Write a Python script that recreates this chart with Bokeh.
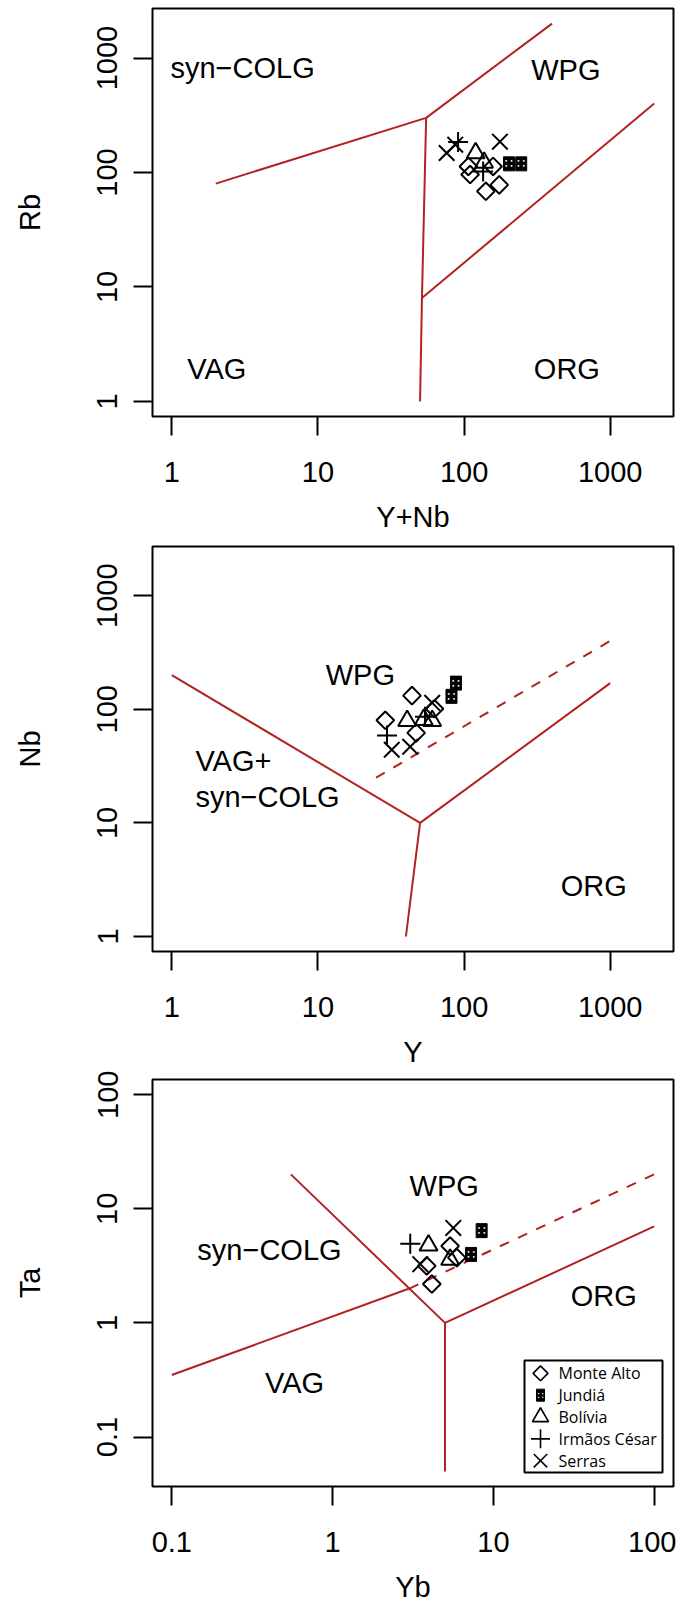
import math
from bokeh.plotting import figure
from bokeh.layouts import column
from bokeh.models import Range1d, FixedTicker, BasicTickFormatter
from bokeh.core.properties import value
from bokeh.embed import file_html
from bokeh.resources import INLINE

# ---------------- data ----------------
# Panel 1: Rb vs Y+Nb
P1_SYN_X = [2, 55, 400]; P1_SYN_Y = [80, 300, 2000]
P1_VAG_X = [55, 51.5, 50]; P1_VAG_Y = [300, 8, 1]
P1_ORG_X = [51.5, 2000]; P1_ORG_Y = [8, 400]
P1_LABELS = ["syn\u2212COLG", "WPG", "VAG", "ORG"]
P1_LAB_X = [3.05, 497, 2.03, 505]
P1_LAB_Y = [815, 783, 1.93, 1.93]

MA1_X = [107, 110, 158, 141, 174]; MA1_Y = [113, 96, 113, 68.5, 78]
JU1_X = [203, 246]; JU1_Y = [119, 119]
BO1_X = [120, 137]; BO1_Y = [148, 122]
IC1_X = [91, 135]; IC1_Y = [185, 102]
SE1_X = [76, 87, 176]; SE1_Y = [148, 175, 186]

# Panel 2: Nb vs Y
P2_A_X = [1, 50, 1000]; P2_A_Y = [200, 10, 170]
P2_B_X = [50, 40]; P2_B_Y = [10, 1]
P2_D_X = [25, 1000]; P2_D_Y = [25, 400]
P2_LABELS = ["WPG", "ORG"]
P2_LAB_X = [19.5, 771]
P2_LAB_Y = [199, 2.8]
P2_LLABELS = ["VAG+", "syn\u2212COLG"]
P2_LLAB_X = [1.45, 1.45]
P2_LLAB_Y = [35, 17]

MA2_X = [44, 28.9, 47, 62.7]; MA2_Y = [132, 80, 62, 101]
JU2_X = [88, 82]; JU2_Y = [170, 130]
BO2_X = [40.8, 53, 60.5]; BO2_Y = [79, 81, 79]
IC2_X = [29.7, 54]; IC2_Y = [58.7, 86]
SE2_X = [32, 42.8, 60.5]; SE2_Y = [44, 46.8, 114]

# Panel 3: Ta vs Yb
P3_A_X = [0.55, 5, 100]; P3_A_Y = [20, 1, 7]
P3_B_X = [5, 5]; P3_B_Y = [1, 0.05]
P3_C_X = [0.1, 3]; P3_C_Y = [0.35, 2]
P3_D_X = [3, 100]; P3_D_Y = [2, 20]
P3_LABELS = ["WPG", "syn\u2212COLG", "ORG", "VAG"]
P3_LAB_X = [4.94, 0.405, 48.5, 0.58]
P3_LAB_Y = [15.7, 4.38, 1.71, 0.296]

MA3_X = [3.85, 4.14, 5.38, 5.92]; MA3_Y = [3.16, 2.19, 4.71, 3.73]
JU3_X = [8.45, 7.26]; JU3_Y = [6.43, 3.98]
BO3_X = [3.95, 5.38]; BO3_Y = [4.78, 3.59]
IC3_X = [3.04]; IC3_Y = [4.93]
SE3_X = [5.63, 3.51]; SE3_Y = [6.79, 3.27]

GROUPS = ["Monte Alto", "Jundiá", "Bolívia", "Irmãos César", "Serras"]

TICKS_MAIN = [1, 10, 100, 1000]
TICKS_P3X = [0.1, 1, 10, 100]
TICKS_P3Y = [0.1, 1, 10, 100]

# ---------------- style ----------------
RED = "#B22222"
FONT = "Liberation Sans"
FS = "29px"
FRAME_L, FRAME_W, FRAME_H = 152, 521, 410


def log_range(lo, hi):
    a, b = math.log10(lo), math.log10(hi)
    d = 0.04 * (b - a)
    return 10 ** (a - d), 10 ** (b + d)


def make_fig(xlim, ylim, xticks, yticks, xlabel, ylabel, top):
    xr = log_range(*xlim)
    yr = log_range(*ylim)
    p = figure(width=676, height=535, x_axis_type="log", y_axis_type="log",
               x_range=Range1d(*xr), y_range=Range1d(*yr),
               output_backend="svg", toolbar_location=None,
               min_border_left=FRAME_L, min_border_right=676 - FRAME_L - FRAME_W,
               min_border_top=top, min_border_bottom=535 - FRAME_H - top)
    p.grid.visible = False
    p.outline_line_color = "black"
    p.outline_line_width = 2
    p.background_fill_color = "white"
    p.border_fill_color = "white"
    for ax, ticks in ((p.xaxis[0], xticks), (p.yaxis[0], yticks)):
        ax.ticker = FixedTicker(ticks=ticks)
        ax.formatter = BasicTickFormatter(use_scientific=False)
        ax.axis_line_color = None
        ax.major_tick_out = 19
        ax.major_tick_in = 0
        ax.major_tick_line_width = 2
        ax.minor_tick_line_color = None
        ax.major_label_text_font = FONT
        ax.major_label_text_font_size = FS
        ax.major_label_text_color = "black"
        ax.axis_label_text_font = FONT
        ax.axis_label_text_font_size = FS
        ax.axis_label_text_font_style = "normal"
        ax.axis_label_text_color = "black"
    p.xaxis.axis_label = xlabel
    p.yaxis.axis_label = ylabel
    p.xaxis.major_label_standoff = 26
    p.xaxis.axis_label_standoff = 16
    p.yaxis.major_label_orientation = "vertical"
    p.yaxis.major_label_standoff = 16
    p.yaxis.axis_label_standoff = 49
    return p, xr, yr


def boundary(p, xs, ys, dash="solid"):
    p.line(xs, ys, line_color=RED, line_width=2, line_dash=dash)


def labels(p, xs, ys, txt, align="center"):
    p.text(x=xs, y=ys, text=txt, text_font=value(FONT), text_font_size=value(FS),
           text_align=align, text_baseline="middle", text_color="black")


def points(p, ma, ju, bo, ic, se):
    p.scatter(ma[0], ma[1], marker="square", angle=math.pi / 4, size=12.5,
              fill_color=None, line_color="black", line_width=2)
    p.rect(ju[0], ju[1], width=11, height=14, width_units="screen",
           height_units="screen", fill_color="black", line_color="black", line_width=1)
    p.text(x=ju[0], y=ju[1], text=["\u2237"] * len(ju[0]), text_color="white",
           text_font=value("DejaVu Sans"), text_font_size=value("13px"),
           text_align="center", text_baseline="middle")
    p.scatter(bo[0], bo[1], marker="triangle", size=18,
              fill_color=None, line_color="black", line_width=2)
    p.scatter(ic[0], ic[1], marker="cross", size=20,
              line_color="black", line_width=2)
    p.scatter(se[0], se[1], marker="x", size=22,
              line_color="black", line_width=2)


# ---------------- panel 1 ----------------
p1, _, _ = make_fig((1, 2000), (1, 2000), TICKS_MAIN, TICKS_MAIN, "Y+Nb", "Rb", 8)
boundary(p1, P1_SYN_X, P1_SYN_Y)
boundary(p1, P1_VAG_X, P1_VAG_Y)
boundary(p1, P1_ORG_X, P1_ORG_Y)
labels(p1, P1_LAB_X, P1_LAB_Y, P1_LABELS)
points(p1, (MA1_X, MA1_Y), (JU1_X, JU1_Y), (BO1_X, BO1_Y), (IC1_X, IC1_Y), (SE1_X, SE1_Y))

# ---------------- panel 2 ----------------
p2, _, _ = make_fig((1, 2000), (1, 2000), TICKS_MAIN, TICKS_MAIN, "Y", "Nb", 11)
boundary(p2, P2_A_X, P2_A_Y)
boundary(p2, P2_B_X, P2_B_Y)
boundary(p2, P2_D_X, P2_D_Y, dash="10 10")
labels(p2, P2_LAB_X, P2_LAB_Y, P2_LABELS)
labels(p2, P2_LLAB_X, P2_LLAB_Y, P2_LLABELS, align="left")
points(p2, (MA2_X, MA2_Y), (JU2_X, JU2_Y), (BO2_X, BO2_Y), (IC2_X, IC2_Y), (SE2_X, SE2_Y))

# ---------------- panel 3 ----------------
TOP3 = 9
p3, xr3, yr3 = make_fig((0.1, 100), (0.05, 100), TICKS_P3X, TICKS_P3Y, "Yb", "Ta", TOP3)
boundary(p3, P3_A_X, P3_A_Y)
boundary(p3, P3_B_X, P3_B_Y)
boundary(p3, P3_C_X, P3_C_Y)
boundary(p3, P3_D_X, P3_D_Y, dash="10 10")
labels(p3, P3_LAB_X, P3_LAB_Y, P3_LABELS)
points(p3, (MA3_X, MA3_Y), (JU3_X, JU3_Y), (BO3_X, BO3_Y), (IC3_X, IC3_Y), (SE3_X, SE3_Y))


# legend (placed in screen pixels of the panel, converted through the ranges)
def sx2d(sx):
    a, b = math.log10(xr3[0]), math.log10(xr3[1])
    return 10 ** (a + (sx - FRAME_L) / FRAME_W * (b - a))


def sy2d(sy):
    a, b = math.log10(yr3[0]), math.log10(yr3[1])
    return 10 ** (b - (sy - TOP3) / FRAME_H * (b - a))


LEG_L, LEG_R, LEG_T, LEG_B = 524, 662, 292, 405
LEG_ROW0, LEG_STEP, LEG_SYM_X, LEG_TXT_X = 305, 22, 540, 558
p3.quad(left=[sx2d(LEG_L)], right=[sx2d(LEG_R)], top=[sy2d(LEG_T)], bottom=[sy2d(LEG_B)],
        fill_color="white", line_color="black", line_width=2)
rows = [sy2d(LEG_ROW0 + i * LEG_STEP) for i in range(len(GROUPS))]
sxs = sx2d(LEG_SYM_X)
p3.scatter([sxs], [rows[0]], marker="square", angle=math.pi / 4, size=10.5,
           fill_color=None, line_color="black", line_width=1.6)
p3.rect([sxs], [rows[1]], width=8, height=12, width_units="screen", height_units="screen",
        fill_color="black", line_color="black")
p3.text(x=[sxs], y=[rows[1]], text=["\u2237"], text_color="white",
        text_font=value("DejaVu Sans"), text_font_size=value("10px"),
        text_align="center", text_baseline="middle")
p3.scatter([sxs], [rows[2]], marker="triangle", size=16, fill_color=None,
           line_color="black", line_width=1.6)
p3.scatter([sxs], [rows[3]], marker="cross", size=19, line_color="black", line_width=1.6)
p3.scatter([sxs], [rows[4]], marker="x", size=19, line_color="black", line_width=1.6)
p3.text(x=[sx2d(LEG_TXT_X)] * len(GROUPS), y=rows, text=GROUPS,
        text_font=value("Open Sans"), text_font_size=value("16px"),
        text_align="left", text_baseline="middle", text_color="black")

layout = column(p1, p2, p3, spacing=0)
open("out.html", "w").write(file_html(layout, INLINE))
